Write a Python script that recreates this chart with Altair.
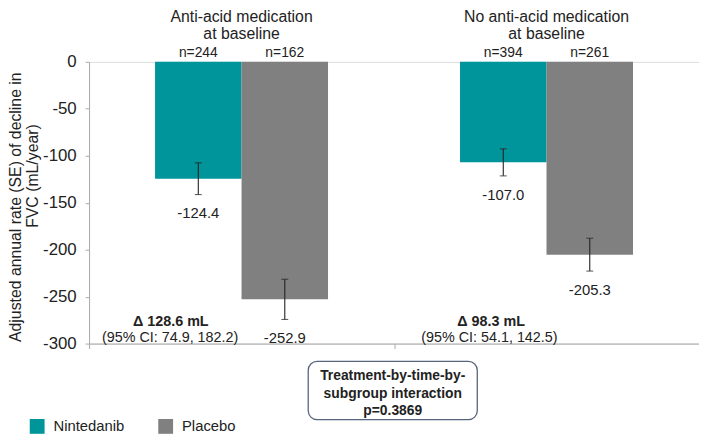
import altair as alt
import pandas as pd

# ---- data ----
group_keys = ["Anti-acid", "No anti-acid"]
group_titles = ["Anti-acid medication\nat baseline", "No anti-acid medication\nat baseline"]
treatments = ["Nintedanib", "Placebo"]
bar_group = ["Anti-acid", "Anti-acid", "No anti-acid", "No anti-acid"]
bar_treat = ["Nintedanib", "Placebo", "Nintedanib", "Placebo"]
values = [-124.4, -252.9, -107.0, -205.3]
se = [16.9, 21.4, 14.4, 17.5]
n_labels = ["n=244", "n=162", "n=394", "n=261"]
value_labels = ["-124.4", "-252.9", "-107.0", "-205.3"]
delta_labels = ["\u0394 128.6 mL", "\u0394 98.3 mL"]
ci_labels = ["(95% CI: 74.9, 182.2)", "(95% CI: 54.1, 142.5)"]
box_lines = ["Treatment-by-time-by-", "subgroup interaction", "p=0.3869"]
y_title = ["Adjusted annual rate (SE) of decline in", "FVC (mL/year)"]
y_ticks = [0, -50, -100, -150, -200, -250, -300]
colors = ["#00959a", "#808080"]

FONT = "Liberation Sans"
TXT = "#222222"

# plot-area origin on the page (page margin + embed offset + padding)
PAD_L, PAD_T = 82, 52
OX, OY = 8 + PAD_L, 10 + PAD_T
W, H = 617, 285

df = pd.DataFrame({
    "group": bar_group,
    "treatment": bar_treat,
    "value": values,
    "lo": [v - s for v, s in zip(values, se)],
    "hi": [v + s for v, s in zip(values, se)],
    "n": n_labels,
    "vlabel": value_labels,
})
titles_df = pd.DataFrame({"group": group_keys, "title": group_titles})

x_enc = alt.X(
    "group:N",
    sort=group_keys,
    scale=alt.Scale(paddingInner=0, paddingOuter=0),
    axis=alt.Axis(orient="bottom", position=0, labels=False, title=None,
                  ticks=True, tickBand="extent", tickSize=5,
                  tickColor="#aaaaaa", domainColor="#aaaaaa", grid=False),
)
xo_enc = alt.XOffset("treatment:N", sort=treatments,
                     scale=alt.Scale(paddingInner=0, paddingOuter=0.763))
y_scale = alt.Scale(domain=[-300, 0], nice=False)
y_axis = alt.Axis(values=y_ticks, title=None, grid=False, labelFontSize=17,
                  labelColor=TXT, labelFont=FONT, domainColor="#aaaaaa",
                  tickColor="#aaaaaa", tickSize=4, labelPadding=9,
                  labelExpr="'' + datum.value")

base = alt.Chart(df)

bars = base.mark_bar().encode(
    x=x_enc,
    xOffset=xo_enc,
    y=alt.Y("value:Q", scale=y_scale, axis=y_axis),
    color=alt.Color(
        "treatment:N",
        sort=treatments,
        scale=alt.Scale(domain=treatments, range=colors),
        legend=alt.Legend(orient="none", legendX=30 - OX, legendY=423 - OY,
                          direction="horizontal", title=None,
                          symbolType="square", symbolSize=225,
                          symbolStrokeWidth=0, symbolOpacity=1,
                          labelFontSize=15, labelFont=FONT, labelColor=TXT,
                          labelOffset=9, columnPadding=34, padding=0),
    ),
)

err = base.mark_rule(color="#222222", strokeWidth=1.1).encode(
    x=x_enc, xOffset=xo_enc,
    y=alt.Y("lo:Q", scale=y_scale, axis=y_axis), y2="hi:Q",
)
cap_lo = base.mark_tick(color="#222222", thickness=1.1, size=7,
                        orient="horizontal").encode(
    x=x_enc, xOffset=xo_enc, y=alt.Y("lo:Q", scale=y_scale, axis=y_axis))
cap_hi = base.mark_tick(color="#222222", thickness=1.1, size=7,
                        orient="horizontal").encode(
    x=x_enc, xOffset=xo_enc, y=alt.Y("hi:Q", scale=y_scale, axis=y_axis))

n_text = base.mark_text(fontSize=14, font=FONT, color=TXT, baseline="alphabetic",
                        dy=-5).encode(
    x=x_enc, xOffset=xo_enc, y=alt.value(0), text="n:N")

val_text = base.mark_text(fontSize=15, font=FONT, color=TXT,
                          baseline="alphabetic", dy=24).encode(
    x=x_enc, xOffset=xo_enc, y=alt.Y("lo:Q", scale=y_scale, axis=y_axis),
    text="vlabel:N")

title_text = alt.Chart(titles_df).mark_text(
    fontSize=16, font=FONT, color=TXT, baseline="alphabetic",
    lineBreak="\n", lineHeight=17.5).encode(
    x=x_enc, y=alt.value(21.8 - OY), text="title:N")


def note(text, ax, ay, size=14.5, weight="normal", angle=0, line_height=None):
    """Text annotation placed at page coordinates (ax, ay)."""
    kw = dict(fontSize=size, font=FONT, color=TXT, fontWeight=weight,
              align="center", baseline="alphabetic")
    if angle:
        kw["angle"] = angle
        kw["baseline"] = "middle"
    if line_height:
        kw["lineBreak"] = "\n"
        kw["lineHeight"] = line_height
    return alt.Chart(pd.DataFrame({"t": [text]})).mark_text(**kw).encode(
        x=alt.value(ax - OX), y=alt.value(ay - OY), text="t:N")


notes = [
    note(delta_labels[0], 172.7, 329.5, weight="bold"),
    note(ci_labels[0], 172, 345),
    note(delta_labels[1], 496.7, 329.5, weight="bold"),
    note(ci_labels[1], 495, 345),
    note(y_title[0], 16.5, 209, size=16, angle=270),
    note(y_title[1], 33, 177.5, size=16, angle=270),
]

box = alt.Chart(pd.DataFrame({"k": [1]})).mark_rect(
    fill="white", stroke="#56657d", strokeWidth=1.3, cornerRadius=9).encode(
    x=alt.value(311.7 - OX), x2=alt.value(482.7 - OX),
    y=alt.value(365 - OY), y2=alt.value(424 - OY))
box_text = note("\n".join(box_lines), 397.2, 384, size=14, weight="bold",
                line_height=17.7)

chart = alt.layer(
    bars, err, cap_lo, cap_hi, n_text, val_text, title_text, box, box_text, *notes
).properties(
    width=W, height=H,
    autosize=alt.AutoSizeParams(type="none"),
    padding={"left": PAD_L, "top": PAD_T, "right": 0, "bottom": 429 - PAD_T - H},
).configure_view(stroke=None).configure(font=FONT)

chart.save("out.html", embed_options={"renderer": "svg", "actions": False})
